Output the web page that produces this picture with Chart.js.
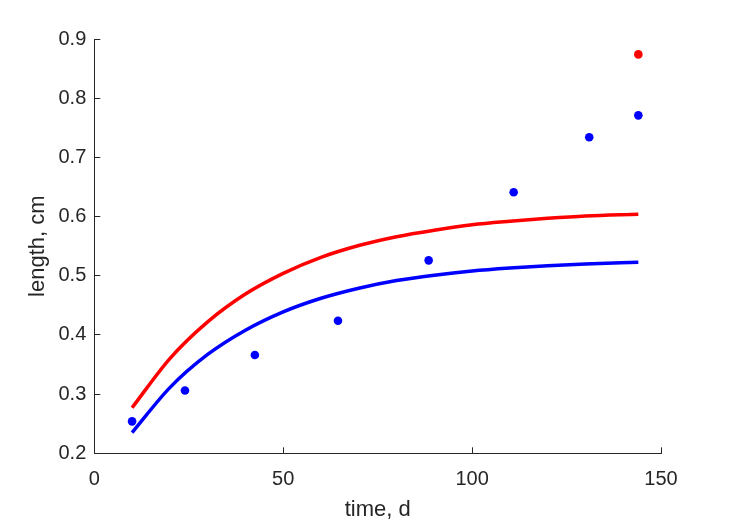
<!DOCTYPE html>
<html>
<head>
<meta charset="utf-8">
<script src="https://cdn.jsdelivr.net/npm/chart.js@4/dist/chart.umd.min.js"></script>
<style>
  html, body { margin: 0; padding: 0; background: #fff; }
  #wrap { width: 729px; height: 521px; }
</style>
</head>
<body>
<div id="wrap"><canvas id="growth"></canvas></div>
<script>
// fitted curves
const curveTimes = [10, 20, 30, 40, 50, 60, 70, 80, 90, 100, 110, 120, 130, 144];
const redCurve = [0.277, 0.360, 0.422, 0.469, 0.504, 0.531, 0.551, 0.566, 0.577, 0.586, 0.592, 0.597, 0.601, 0.604];
const blueCurve = [0.235, 0.311, 0.367, 0.408, 0.439, 0.462, 0.479, 0.492, 0.501, 0.508, 0.513, 0.517, 0.520, 0.523];

// measured points
const sampleTimes = [10, 24, 42.5, 64.5, 88.5, 111, 131, 144];
const sampleLengths = [0.254, 0.306, 0.366, 0.424, 0.526, 0.641, 0.734, 0.771];
const extraTimes = [144];
const extraLengths = [0.874];

const xTicks = [0, 50, 100, 150];
const yTicks = [0.2, 0.3, 0.4, 0.5, 0.6, 0.7, 0.8, 0.9];

const ink = '#262626';
const font = "'Liberation Sans', Arial, Helvetica, sans-serif";

function toPoints(xs, ys) {
  return xs.map((x, i) => ({ x: x, y: ys[i] }));
}

const ctx = document.getElementById('growth');

new Chart(ctx, {
  type: 'scatter',
  data: {
    datasets: [
      {
        data: toPoints(sampleTimes, sampleLengths),
        backgroundColor: '#0000ff',
        borderColor: '#0000ff',
        pointRadius: 4.3,
        pointBorderWidth: 0,
        order: 1
      },
      {
        data: toPoints(extraTimes, extraLengths),
        backgroundColor: '#ff0000',
        borderColor: '#ff0000',
        pointRadius: 4.3,
        pointBorderWidth: 0,
        order: 1
      },
      {
        data: toPoints(curveTimes, redCurve),
        showLine: true,
        borderColor: '#ff0000',
        borderWidth: 3.5,
        pointRadius: 0,
        cubicInterpolationMode: 'monotone',
        order: 2
      },
      {
        data: toPoints(curveTimes, blueCurve),
        showLine: true,
        borderColor: '#0000ff',
        borderWidth: 3.5,
        pointRadius: 0,
        cubicInterpolationMode: 'monotone',
        order: 2
      }
    ]
  },
  options: {
    responsive: true,
    maintainAspectRatio: false,
    animation: false,
    layout: {
      padding: { top: 39, right: 68, left: 0, bottom: 0 }
    },
    plugins: {
      legend: { display: false },
      tooltip: { enabled: false }
    },
    scales: {
      x: {
        type: 'linear',
        min: 0,
        max: 150,
        afterBuildTicks: (axis) => { axis.ticks = xTicks.map(v => ({ value: v })); },
        afterFit: (axis) => { axis.height = 67.7; },
        border: { display: true, color: ink, width: 1 },
        grid: { drawOnChartArea: false, drawTicks: true, tickLength: -6, color: ink },
        ticks: {
          color: ink,
          padding: 20,
          maxRotation: 0,
          font: { family: font, size: 20 }
        },
        title: {
          display: true,
          text: 'time, d',
          color: ink,
          padding: { top: 0, bottom: -2 },
          font: { family: font, size: 22 }
        }
      },
      y: {
        type: 'linear',
        min: 0.2,
        max: 0.9,
        afterBuildTicks: (axis) => { axis.ticks = yTicks.map(v => ({ value: v })); },
        afterFit: (axis) => { axis.width = 94.3; },
        border: { display: true, color: ink, width: 1 },
        grid: { drawOnChartArea: false, drawTicks: true, tickLength: -6, color: ink },
        ticks: {
          color: ink,
          padding: 14,
          font: { family: font, size: 20 },
          callback: (v) => Number(v).toFixed(1)
        },
        title: {
          display: true,
          text: 'length, cm',
          color: ink,
          padding: { top: 25, bottom: 0 },
          font: { family: font, size: 22 }
        }
      }
    }
  }
});
</script>
</body>
</html>
